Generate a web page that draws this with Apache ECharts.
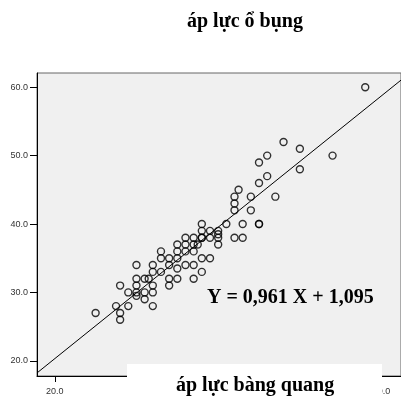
<!DOCTYPE html>
<html><head><meta charset="utf-8">
<script src="https://cdn.jsdelivr.net/npm/echarts@6/dist/echarts.min.js"></script>
<style>html,body{margin:0;padding:0;background:#fff}#c{width:401px;height:396px}</style>
</head><body><div id="c"></div>
<script>
const chartTitle = 'áp lực ổ bụng';
const xAxisTitle = 'áp lực bàng quang';
const equationText = 'Y = 0,961 X + 1,095';
const fitCoef = [0.961, 1.095];
const tickValues = [20, 30, 40, 50, 60];
const xValues = [38,41,43,45, 38,39,40, 40, 36,37,38,40,42,43, 35,36,37,37.5,40,
  33,35,36,37, 33,34,35,38,39, 30,32,34,36,37, 32,33,35,38, 30,31,34,35,37, 30,32,34,
  30,31,32, 31, 32, 28,29,27.5,29,25,28,28,31.5,30,
  42.5,42,42,42,44,44,45,45,46,46,48,50,50,54,47,58,45,38,39];
const yValues = [40,40,40,40, 39,39,39, 38.5, 38,38,38,38,38,38, 37,37,37,37,37,
  36,36,36,36, 35,35,35,35,35, 34,34,34,34,34, 33,33,33.5,33, 32,32,32,32,32, 31,31,31,
  30,30,30, 29, 28, 31,30,28,28,27,27,26,32,29.5,
  45,44,43,42,44,42,46,49,47,50,52,51,48,50,44,60,40,38,38];
const points = xValues.map((x, i) => [x, yValues[i]]);
const xMin = 17.827, xMax = 62.378, yMin = 17.78, yMax = 62.08;
const fitLine = [[xMin, fitCoef[0]*xMin + fitCoef[1]], [xMax, fitCoef[0]*xMax + fitCoef[1]]];

const chart = echarts.init(document.getElementById('c'), null, {renderer: 'canvas'});
const tickLabelStyle = {fontFamily: 'Liberation Sans, Arial, sans-serif', fontSize: 9, color: '#333'};
chart.setOption({
  animation: false,
  grid: {left: 37, top: 73, right: -5, bottom: 18, show: true, backgroundColor: '#f0f0f0', borderColor: '#666', borderWidth: 1},
  xAxis: {type: 'value', min: xMin, max: xMax,
    axisLine: {show: true, lineStyle: {color: '#000', width: 1}},
    axisTick: {show: true, length: 6, customValues: tickValues, lineStyle: {color: '#000'}},
    axisLabel: Object.assign({customValues: tickValues, formatter: v => v.toFixed(1), margin: 11}, tickLabelStyle),
    splitLine: {show: false}},
  yAxis: {type: 'value', min: yMin, max: yMax,
    axisLine: {show: true, lineStyle: {color: '#000', width: 1}},
    axisTick: {show: true, length: 7, customValues: tickValues, lineStyle: {color: '#000'}},
    axisLabel: Object.assign({customValues: tickValues, formatter: v => v.toFixed(1), margin: 9}, tickLabelStyle),
    splitLine: {show: false}},
  series: [
    {type: 'line', data: fitLine, symbol: 'none', lineStyle: {color: '#000', width: 1}, z: 2, clip: true},
    {type: 'scatter', data: points, symbol: 'circle', symbolSize: 7,
     itemStyle: {color: 'rgba(0,0,0,0)', borderColor: '#000', borderWidth: 1.4}, z: 3}
  ],
  graphic: [
    {type: 'text', left: 187, top: 12, style: {text: chartTitle, font: 'bold 20px "Liberation Serif", "Times New Roman", serif', fill: '#000'}},
    {type: 'text', left: 207, top: 288, z: 10, style: {text: equationText, font: 'bold 20px "Liberation Serif", "Times New Roman", serif', fill: '#000'}},
    {type: 'rect', shape: {x: 127, y: 364, width: 255, height: 40}, style: {fill: '#fff'}, z: 20},
    {type: 'text', left: 176, top: 376, z: 21, style: {text: xAxisTitle, font: 'bold 20px "Liberation Serif", "Times New Roman", serif', fill: '#000'}}
  ]
});
</script></body></html>
